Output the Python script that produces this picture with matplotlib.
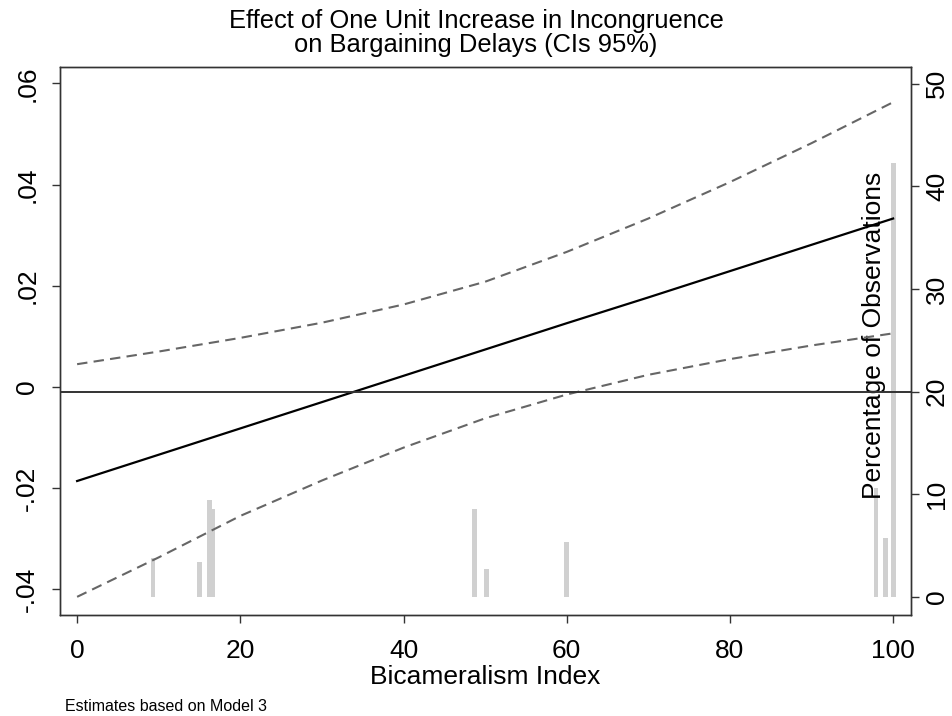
import numpy as np
import matplotlib
matplotlib.use("Agg")
import matplotlib.pyplot as plt

plt.rcParams['font.family'] = ['Liberation Sans', 'DejaVu Sans']

# marginal effect and 95% CI
bicam = [0, 10, 20, 30, 40, 50, 60, 70, 80, 90, 100]
effect = [-0.0186, -0.0134, -0.0082, -0.0030, 0.0022, 0.0074, 0.0126, 0.0177, 0.0229, 0.0281, 0.0333]
ci_upper = [0.0045, 0.0070, 0.0097, 0.0127, 0.0163, 0.0208, 0.0267, 0.0333, 0.0405, 0.0482, 0.0563]
ci_lower = [-0.0415, -0.0337, -0.0255, -0.0185, -0.0120, -0.0062, -0.0015, 0.0024, 0.0055, 0.0082, 0.0106]
ref_line = -0.001

# histogram of observations (percent)
hist_x = [9.3, 15.0, 16.2, 16.6, 48.7, 50.2, 60.0, 97.9, 99.1, 100.0]
hist_pct = [3.8, 3.4, 9.5, 8.6, 8.6, 2.7, 5.4, 10.6, 5.8, 42.3]

fig = plt.figure(figsize=(9.52, 7.16), dpi=100)
ax = fig.add_axes([0.063, 0.141, 0.894, 0.765])
ax2 = ax.twinx()

ax2.bar(hist_x, hist_pct, width=0.6, color='#d0d0d0', zorder=1)
ax.set_zorder(ax2.get_zorder() + 1)
ax.patch.set_visible(False)

ax.plot(bicam, ci_upper, color='#666666', lw=1.5, dashes=(5, 3))
ax.plot(bicam, ci_lower, color='#666666', lw=1.5, dashes=(5, 3))
ax.plot(bicam, effect, color='black', lw=1.6)
ax.axhline(ref_line, color='#333333', lw=1.4)

ax.set_xlim(-2.1, 102.2)
ax.set_ylim(-0.0451, 0.0632)
ax2.set_ylim(-1.75, 51.6)

ax.set_xticks([0, 20, 40, 60, 80, 100])
ax.set_yticks([0.06, 0.04, 0.02, 0, -0.02, -0.04])
ax.set_yticklabels(['.06', '.04', '.02', '0', '-.02', '-.04'])
ax2.set_yticks([0, 10, 20, 30, 40, 50])

for a in (ax, ax2):
    a.tick_params(length=6, width=1, color='#333333', labelsize=19, pad=9)
    for s in a.spines.values():
        s.set_color('#333333')
        s.set_linewidth(1)
ax.tick_params(axis='x', pad=11)
ax2.tick_params(pad=4)
plt.setp(ax.get_yticklabels(), rotation=90, va='center')
plt.setp(ax2.get_yticklabels(), rotation=90, va='center')

ax.set_xlabel('Bicameralism Index', fontsize=19, labelpad=2)
ax2.text(97.6, 25.5, 'Percentage of Observations', rotation=90, fontsize=19,
         ha='center', va='center', zorder=5)

fig.suptitle('Effect of One Unit Increase in Incongruence\non Bargaining Delays (CIs 95%)',
             fontsize=18.4, y=0.987, linespacing=1.0)
fig.text(0.068, 0.007, 'Estimates based on Model 3', fontsize=11.5)

fig.savefig('out.png', dpi=100)
